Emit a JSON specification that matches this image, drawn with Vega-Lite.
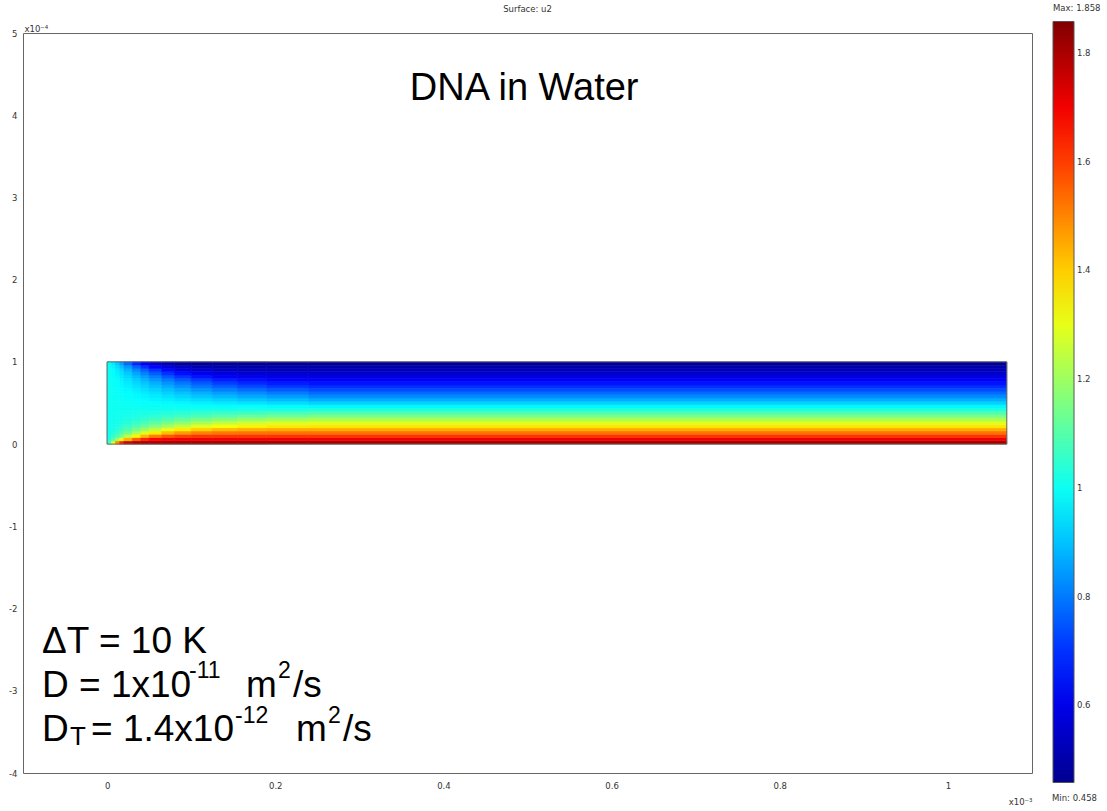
{
  "$schema": "https://vega.github.io/schema/vega-lite/v6.json",
  "width": 1009,
  "height": 740,
  "autosize": {"type": "none"},
  "padding": {"left": 23, "top": 33, "right": 75, "bottom": 38},
  "background": "white",
  "title": {"text": "Surface: u2", "fontSize": 8.5, "font": "DejaVu Sans", "fontWeight": "normal", "color": "#333", "frame": "group", "anchor": "middle", "offset": -9},
  "config": {"view": {"stroke": "#666", "strokeWidth": 1}},
  "datasets": {
    "xbands": [
      {"k": "c1", "x": 0, "x2": 0.005},
      {"k": "c2", "x": 0.005, "x2": 0.01},
      {"k": "c3", "x": 0.01, "x2": 0.015},
      {"k": "c4", "x": 0.015, "x2": 0.02},
      {"k": "c5", "x": 0.02, "x2": 0.03},
      {"k": "c6", "x": 0.03, "x2": 0.04},
      {"k": "c7", "x": 0.04, "x2": 0.05},
      {"k": "c8", "x": 0.05, "x2": 0.065},
      {"k": "c9", "x": 0.065, "x2": 0.08},
      {"k": "c10", "x": 0.08, "x2": 0.1},
      {"k": "c11", "x": 0.1, "x2": 0.125},
      {"k": "c12", "x": 0.125, "x2": 0.155},
      {"k": "c13", "x": 0.155, "x2": 0.19},
      {"k": "c14", "x": 0.19, "x2": 0.24},
      {"k": "c15", "x": 0.24, "x2": 1.07}
    ],
    "field": [
      {"y": 0.00, "y2": 0.04, "c1": 1.065, "c2": 1.286, "c3": 1.491, "c4": 1.637, "c5": 1.751, "c6": 1.797, "c7": 1.806, "c8": 1.807, "c9": 1.807, "c10": 1.807, "c11": 1.807, "c12": 1.807, "c13": 1.807, "c14": 1.807, "c15": 1.807},
      {"y": 0.04, "y2": 0.08, "c1": 1.021, "c2": 1.100, "c3": 1.198, "c4": 1.297, "c5": 1.428, "c6": 1.556, "c7": 1.632, "c8": 1.680, "c9": 1.700, "c10": 1.707, "c11": 1.708, "c12": 1.708, "c13": 1.708, "c14": 1.708, "c15": 1.708},
      {"y": 0.08, "y2": 0.12, "c1": 1.010, "c2": 1.049, "c3": 1.100, "c4": 1.157, "c5": 1.242, "c6": 1.347, "c7": 1.431, "c8": 1.507, "c9": 1.563, "c10": 1.595, "c11": 1.610, "c12": 1.614, "c13": 1.615, "c14": 1.615, "c15": 1.615},
      {"y": 0.12, "y2": 0.16, "c1": 1.005, "c2": 1.027, "c3": 1.057, "c4": 1.092, "c5": 1.146, "c6": 1.219, "c7": 1.287, "c8": 1.358, "c9": 1.422, "c10": 1.469, "c11": 1.504, "c12": 1.520, "c13": 1.525, "c14": 1.527, "c15": 1.527},
      {"y": 0.16, "y2": 0.20, "c1": 1.003, "c2": 1.017, "c3": 1.035, "c4": 1.057, "c5": 1.092, "c6": 1.142, "c7": 1.191, "c8": 1.247, "c9": 1.303, "c10": 1.353, "c11": 1.395, "c12": 1.424, "c13": 1.437, "c14": 1.443, "c15": 1.444},
      {"y": 0.20, "y2": 0.24, "c1": 1.002, "c2": 1.011, "c3": 1.022, "c4": 1.036, "c5": 1.059, "c6": 1.092, "c7": 1.127, "c8": 1.168, "c9": 1.212, "c10": 1.256, "c11": 1.297, "c12": 1.329, "c13": 1.350, "c14": 1.361, "c15": 1.365},
      {"y": 0.24, "y2": 0.28, "c1": 1.001, "c2": 1.007, "c3": 1.014, "c4": 1.023, "c5": 1.038, "c6": 1.061, "c7": 1.084, "c8": 1.113, "c9": 1.146, "c10": 1.179, "c11": 1.214, "c12": 1.245, "c13": 1.268, "c14": 1.283, "c15": 1.291},
      {"y": 0.28, "y2": 0.32, "c1": 1.001, "c2": 1.004, "c3": 1.009, "c4": 1.014, "c5": 1.024, "c6": 1.038, "c7": 1.053, "c8": 1.073, "c9": 1.095, "c10": 1.120, "c11": 1.147, "c12": 1.172, "c13": 1.192, "c14": 1.209, "c15": 1.221},
      {"y": 0.32, "y2": 0.36, "c1": 1.000, "c2": 1.002, "c3": 1.005, "c4": 1.008, "c5": 1.014, "c6": 1.023, "c7": 1.032, "c8": 1.044, "c9": 1.058, "c10": 1.074, "c11": 1.092, "c12": 1.111, "c13": 1.127, "c14": 1.140, "c15": 1.154},
      {"y": 0.36, "y2": 0.40, "c1": 1.000, "c2": 1.001, "c3": 1.003, "c4": 1.004, "c5": 1.007, "c6": 1.012, "c7": 1.016, "c8": 1.023, "c9": 1.030, "c10": 1.039, "c11": 1.049, "c12": 1.060, "c13": 1.070, "c14": 1.079, "c15": 1.091},
      {"y": 0.40, "y2": 0.44, "c1": 1.000, "c2": 1.000, "c3": 1.001, "c4": 1.001, "c5": 1.002, "c6": 1.004, "c7": 1.005, "c8": 1.007, "c9": 1.009, "c10": 1.012, "c11": 1.016, "c12": 1.020, "c13": 1.023, "c14": 1.027, "c15": 1.032},
      {"y": 0.44, "y2": 0.48, "c1": 1.000, "c2": 1.000, "c3": 0.999, "c4": 0.999, "c5": 0.999, "c6": 0.998, "c7": 0.997, "c8": 0.995, "c9": 0.994, "c10": 0.992, "c11": 0.989, "c12": 0.987, "c13": 0.984, "c14": 0.981, "c15": 0.976},
      {"y": 0.48, "y2": 0.52, "c1": 1.000, "c2": 0.999, "c3": 0.998, "c4": 0.997, "c5": 0.995, "c6": 0.992, "c7": 0.989, "c8": 0.985, "c9": 0.979, "c10": 0.973, "c11": 0.965, "c12": 0.956, "c13": 0.947, "c14": 0.938, "c15": 0.923},
      {"y": 0.52, "y2": 0.56, "c1": 1.000, "c2": 0.999, "c3": 0.997, "c4": 0.995, "c5": 0.991, "c6": 0.986, "c7": 0.980, "c8": 0.972, "c9": 0.963, "c10": 0.951, "c11": 0.938, "c12": 0.923, "c13": 0.908, "c14": 0.894, "c15": 0.872},
      {"y": 0.56, "y2": 0.60, "c1": 1.000, "c2": 0.998, "c3": 0.995, "c4": 0.992, "c5": 0.987, "c6": 0.979, "c7": 0.970, "c8": 0.959, "c9": 0.944, "c10": 0.928, "c11": 0.908, "c12": 0.888, "c13": 0.868, "c14": 0.850, "c15": 0.825},
      {"y": 0.60, "y2": 0.64, "c1": 0.999, "c2": 0.997, "c3": 0.993, "c4": 0.989, "c5": 0.982, "c6": 0.970, "c7": 0.958, "c8": 0.943, "c9": 0.923, "c10": 0.901, "c11": 0.876, "c12": 0.850, "c13": 0.826, "c14": 0.805, "c15": 0.780},
      {"y": 0.64, "y2": 0.68, "c1": 0.999, "c2": 0.996, "c3": 0.991, "c4": 0.985, "c5": 0.976, "c6": 0.961, "c7": 0.944, "c8": 0.924, "c9": 0.899, "c10": 0.871, "c11": 0.840, "c12": 0.809, "c13": 0.782, "c14": 0.759, "c15": 0.737},
      {"y": 0.68, "y2": 0.72, "c1": 0.999, "c2": 0.994, "c3": 0.988, "c4": 0.981, "c5": 0.968, "c6": 0.948, "c7": 0.928, "c8": 0.902, "c9": 0.871, "c10": 0.838, "c11": 0.801, "c12": 0.767, "c13": 0.737, "c14": 0.715, "c15": 0.697},
      {"y": 0.72, "y2": 0.76, "c1": 0.999, "c2": 0.992, "c3": 0.985, "c4": 0.975, "c5": 0.958, "c6": 0.934, "c7": 0.909, "c8": 0.876, "c9": 0.839, "c10": 0.800, "c11": 0.759, "c12": 0.720, "c13": 0.691, "c14": 0.672, "c15": 0.659},
      {"y": 0.76, "y2": 0.80, "c1": 0.998, "c2": 0.991, "c3": 0.980, "c4": 0.968, "c5": 0.947, "c6": 0.916, "c7": 0.884, "c8": 0.845, "c9": 0.801, "c10": 0.757, "c11": 0.712, "c12": 0.674, "c13": 0.648, "c14": 0.632, "c15": 0.623},
      {"y": 0.80, "y2": 0.84, "c1": 0.998, "c2": 0.987, "c3": 0.975, "c4": 0.958, "c5": 0.932, "c6": 0.893, "c7": 0.854, "c8": 0.807, "c9": 0.757, "c10": 0.708, "c11": 0.662, "c12": 0.627, "c13": 0.605, "c14": 0.594, "c15": 0.590},
      {"y": 0.84, "y2": 0.88, "c1": 0.997, "c2": 0.984, "c3": 0.967, "c4": 0.946, "c5": 0.911, "c6": 0.863, "c7": 0.816, "c8": 0.761, "c9": 0.705, "c10": 0.654, "c11": 0.610, "c12": 0.580, "c13": 0.566, "c14": 0.559, "c15": 0.557},
      {"y": 0.88, "y2": 0.92, "c1": 0.996, "c2": 0.979, "c3": 0.955, "c4": 0.928, "c5": 0.884, "c6": 0.823, "c7": 0.766, "c8": 0.704, "c9": 0.644, "c10": 0.596, "c11": 0.562, "c12": 0.539, "c13": 0.530, "c14": 0.527, "c15": 0.527},
      {"y": 0.92, "y2": 0.96, "c1": 0.994, "c2": 0.970, "c3": 0.938, "c4": 0.902, "c5": 0.844, "c6": 0.769, "c7": 0.702, "c8": 0.635, "c9": 0.578, "c10": 0.538, "c11": 0.511, "c12": 0.502, "c13": 0.499, "c14": 0.498, "c15": 0.498},
      {"y": 0.96, "y2": 1.00, "c1": 0.992, "c2": 0.956, "c3": 0.910, "c4": 0.860, "c5": 0.783, "c6": 0.692, "c7": 0.619, "c8": 0.556, "c9": 0.511, "c10": 0.485, "c11": 0.474, "c12": 0.472, "c13": 0.471, "c14": 0.471, "c15": 0.471}
    ],
    "big": [
      {"t": "ΔT = 10 K", "x": -0.0774, "y": -2.537},
      {"t": "D = 1x10", "x": -0.0774, "y": -3.080},
      {"t": "m", "x": 0.1652, "y": -3.080},
      {"t": "/s", "x": 0.2210, "y": -3.080},
      {"t": "D", "x": -0.0774, "y": -3.607},
      {"t": "= 1.4x10", "x": -0.0191, "y": -3.607},
      {"t": "m", "x": 0.2247, "y": -3.607},
      {"t": "/s", "x": 0.2805, "y": -3.607}
    ],
    "sup": [
      {"t": "-11", "x": 0.0975, "y": -2.845},
      {"t": "2", "x": 0.2033, "y": -2.845},
      {"t": "-12", "x": 0.1522, "y": -3.396},
      {"t": "2", "x": 0.2626, "y": -3.396}
    ],
    "sub": [
      {"t": "T", "x": -0.0441, "y": -3.660}
    ],
    "heading": [
      {"t": "DNA in Water", "x": 0.496, "y": 4.191}
    ],
    "minlabel": [
      {"t": "Min: 0.458", "x": 1.1238, "y": -4.341}
    ],
    "outline": [
      {"x": 0, "x2": 1.07, "y": 0, "y2": 1}
    ]
  },
  "encoding": {
    "x": {
      "field": "x", "type": "quantitative",
      "scale": {"domain": [-0.1, 1.1], "nice": false, "zero": false},
      "axis": {
        "values": [0, 0.2, 0.4, 0.6, 0.8, 1], "labelExpr": "datum.value + ''",
        "grid": false, "ticks": false, "domain": false, "labelPadding": 8,
        "labelFont": "DejaVu Sans", "labelFontSize": 8.5, "labelColor": "#333",
        "title": "x10⁻³", "titleFont": "DejaVu Sans", "titleFontSize": 8.5, "titleFontWeight": "normal", "titleColor": "#333",
        "titleAnchor": "end", "titleAlign": "right", "titleBaseline": "alphabetic", "titleY": 31
      }
    },
    "y": {
      "field": "y", "type": "quantitative",
      "scale": {"domain": [-4, 5], "nice": false, "zero": false},
      "axis": {
        "values": [-4, -3, -2, -1, 0, 1, 2, 3, 4, 5], "labelExpr": "datum.value + ''",
        "grid": false, "ticks": false, "domain": false, "labelPadding": 6,
        "labelFont": "DejaVu Sans", "labelFontSize": 8.5, "labelColor": "#333",
        "title": "x10⁻⁴", "titleFont": "DejaVu Sans", "titleFontSize": 8.5, "titleFontWeight": "normal", "titleColor": "#333",
        "titleAngle": 0, "titleAlign": "left", "titleBaseline": "alphabetic", "titleX": 1, "titleY": -2
      }
    }
  },
  "layer": [
    {
      "data": {"name": "field"},
      "transform": [
        {"fold": ["c1", "c2", "c3", "c4", "c5", "c6", "c7", "c8", "c9", "c10", "c11", "c12", "c13", "c14", "c15"], "as": ["k", "u"]},
        {"lookup": "k", "from": {"data": {"name": "xbands"}, "key": "k", "fields": ["x", "x2"]}}
      ],
      "mark": {"type": "rect", "strokeWidth": 0.6, "stroke": {"expr": "scale('color', datum.u)"}},
      "encoding": {
        "x2": {"field": "x2"},
        "y2": {"field": "y2"},
        "color": {
          "field": "u", "type": "quantitative",
          "scale": {"type": "linear", "domain": [0.458, 0.633, 0.983, 1.333, 1.683, 1.858], "range": ["#00008f", "#0000ff", "#00ffff", "#ffff00", "#ff0000", "#800000"], "interpolate": "rgb"},
          "legend": {
            "type": "gradient",
            "orient": "none", "legendX": 1030, "legendY": -29, "direction": "vertical",
            "gradientLength": 761, "gradientThickness": 21,
            "values": [0.6, 0.8, 1, 1.2, 1.4, 1.6, 1.8], "labelExpr": "datum.value + ''",
            "title": "Max: 1.858", "titleFont": "DejaVu Sans", "titleFontSize": 8.5, "titleFontWeight": "normal", "titleColor": "#333", "titlePadding": 9,
            "labelFont": "DejaVu Sans", "labelFontSize": 8.5, "labelColor": "#333", "labelOffset": 3, "labelOverlap": false,
            "gradientStrokeColor": "#555", "gradientStrokeWidth": 1, "padding": 0
          }
        }
      }
    },
    {
      "data": {"name": "outline"},
      "mark": {"type": "rect", "filled": false, "stroke": "#666", "strokeWidth": 1},
      "encoding": {"x2": {"field": "x2"}, "y2": {"field": "y2"}}
    },
    {
      "data": {"name": "heading"},
      "mark": {"type": "text", "font": "Liberation Sans", "fontSize": 38, "align": "center", "baseline": "alphabetic", "color": "#000"},
      "encoding": {"text": {"field": "t"}}
    },
    {
      "data": {"name": "big"},
      "mark": {"type": "text", "font": "Liberation Sans", "fontSize": 37, "align": "left", "baseline": "alphabetic", "color": "#000"},
      "encoding": {"text": {"field": "t"}}
    },
    {
      "data": {"name": "sup"},
      "mark": {"type": "text", "font": "Liberation Sans", "fontSize": 23, "align": "left", "baseline": "alphabetic", "color": "#000"},
      "encoding": {"text": {"field": "t"}}
    },
    {
      "data": {"name": "sub"},
      "mark": {"type": "text", "font": "Liberation Sans", "fontSize": 26, "align": "left", "baseline": "alphabetic", "color": "#000"},
      "encoding": {"text": {"field": "t"}}
    },
    {
      "data": {"name": "minlabel"},
      "mark": {"type": "text", "font": "DejaVu Sans", "fontSize": 8.5, "align": "left", "baseline": "alphabetic", "color": "#333"},
      "encoding": {"text": {"field": "t"}}
    }
  ]
}
